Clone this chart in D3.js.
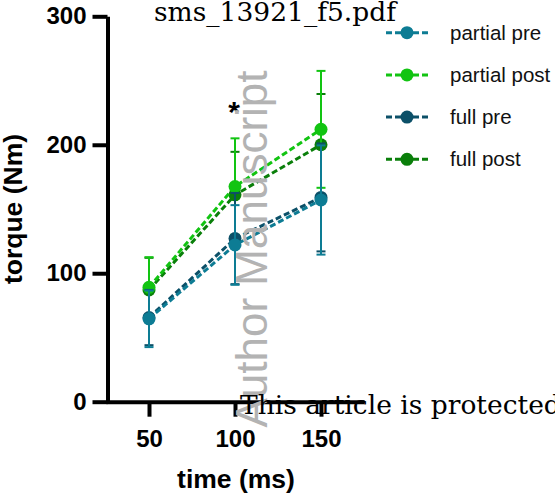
<!DOCTYPE html>
<html>
<head>
<meta charset="utf-8">
<script src="https://cdn.jsdelivr.net/npm/d3@7"></script>
<style>
  html, body { margin: 0; padding: 0; background: #fff; }
  svg { display: block; }
</style>
</head>
<body>
<svg id="chart" width="555" height="498"></svg>
<script>
// Torque over time, partial vs full groups, pre and post (mean ± SD)
const times = [50, 100, 150];
const seriesNames = ["partial pre", "partial post", "full pre", "full post"];
const partialPre = [64.5, 122, 157];
const partialPreSD = [22, 31, 42.5];
const partialPost = [89, 167.5, 212];
const partialPostSD = [23.5, 37.5, 45.5];
const fullPre = [65.5, 127, 159];
const fullPreSD = [21.5, 35.5, 42];
const fullPost = [87, 161, 200];
const fullPostSD = [25, 33.5, 39.5];
const yTicks = [0, 100, 200, 300];
const xTicks = [50, 100, 150];
const colors = ["#0d7c94", "#12c412", "#0c5068", "#0a7f0a"];

const series = [
  { name: seriesNames[0], mean: partialPre, sd: partialPreSD, color: colors[0] },
  { name: seriesNames[1], mean: partialPost, sd: partialPostSD, color: colors[1] },
  { name: seriesNames[2], mean: fullPre, sd: fullPreSD, color: colors[2] },
  { name: seriesNames[3], mean: fullPost, sd: fullPostSD, color: colors[3] }
];

const svg = d3.select("#chart");
const sans = "'Liberation Sans', Arial, Helvetica, sans-serif";
const serif = "'DejaVu Serif', serif";

const x = d3.scaleLinear().domain([25, 175]).range([106, 364]);
const y = d3.scaleLinear().domain([0, 300]).range([401.7, 16.3]);

// header line of the page
svg.append("text")
  .attr("x", 154).attr("y", 21)
  .attr("font-family", serif).attr("font-size", 26.5)
  .attr("fill", "#000")
  .text("sms_13921_f5.pdf");

// axes
const yAxis = svg.append("g")
  .attr("transform", "translate(107.5,0)")
  .call(d3.axisLeft(y).tickValues(yTicks).tickSize(15).tickSizeOuter(0).tickPadding(6));
const xAxis = svg.append("g")
  .attr("transform", `translate(0,${y(0)})`)
  .call(d3.axisBottom(x).tickValues(xTicks).tickSize(15).tickSizeOuter(0).tickPadding(13));

[yAxis, xAxis].forEach(g => {
  g.select(".domain").attr("stroke", "#000").attr("stroke-width", 4);
  g.selectAll(".tick line").attr("stroke", "#000").attr("stroke-width", 4);
  g.selectAll(".tick text")
    .attr("font-family", sans).attr("font-weight", "bold")
    .attr("font-size", 24).attr("fill", "#000");
});

// axis titles
svg.append("text")
  .attr("x", 236).attr("y", 488)
  .attr("text-anchor", "middle")
  .attr("font-family", sans).attr("font-weight", "bold").attr("font-size", 26.5)
  .text("time (ms)");
svg.append("text")
  .attr("transform", "translate(22,209) rotate(-90)")
  .attr("text-anchor", "middle")
  .attr("font-family", sans).attr("font-weight", "bold").attr("font-size", 26.5)
  .text("torque (Nm)");

// data: drawn back to front
const drawOrder = [3, 1, 2, 0];
const line = d3.line().x((d, i) => x(times[i])).y(d => y(d));
const capHalf = 4.5;

drawOrder.forEach(k => {
  const s = series[k];
  const g = svg.append("g");
  // error bars
  times.forEach((t, i) => {
    const lo = y(s.mean[i] - s.sd[i]);
    const hi = y(s.mean[i] + s.sd[i]);
    g.append("line").attr("x1", x(t)).attr("x2", x(t)).attr("y1", lo).attr("y2", hi)
      .attr("stroke", s.color).attr("stroke-width", 2);
    [lo, hi].forEach(v => {
      g.append("line").attr("x1", x(t) - capHalf).attr("x2", x(t) + capHalf)
        .attr("y1", v).attr("y2", v)
        .attr("stroke", s.color).attr("stroke-width", 2);
    });
  });
  // dashed connecting line
  g.append("path").datum(s.mean)
    .attr("d", line)
    .attr("fill", "none").attr("stroke", s.color)
    .attr("stroke-width", 3).attr("stroke-dasharray", "6,3");
  // markers
  g.selectAll("circle").data(s.mean).join("circle")
    .attr("cx", (d, i) => x(times[i])).attr("cy", d => y(d))
    .attr("r", 6.5).attr("fill", s.color);
});

// significance marker
svg.append("text")
  .attr("x", x(100) - 1).attr("y", 122)
  .attr("text-anchor", "middle")
  .attr("font-family", sans).attr("font-weight", "bold").attr("font-size", 30)
  .text("*");

// legend
const legend = svg.append("g");
const legendY = d3.scalePoint().domain(seriesNames).range([32.7, 159.3]);
series.forEach(s => {
  const ly = legendY(s.name);
  legend.append("line").attr("x1", 386).attr("x2", 428).attr("y1", ly).attr("y2", ly)
    .attr("stroke", s.color).attr("stroke-width", 3).attr("stroke-dasharray", "6,3");
  legend.append("circle").attr("cx", 407).attr("cy", ly).attr("r", 6.5).attr("fill", s.color);
  legend.append("text").attr("x", 450).attr("y", ly).attr("dy", "0.35em")
    .attr("font-family", sans).attr("font-size", 20.5).attr("fill", "#111")
    .text(s.name);
});

// page overlays
svg.append("text")
  .attr("transform", "translate(267,249) rotate(-90)")
  .attr("text-anchor", "middle")
  .attr("font-family", sans).attr("font-size", 44)
  .attr("fill", "#b3b3b3")
  .text("Author Manuscript");
svg.append("text")
  .attr("x", 240).attr("y", 414)
  .attr("font-family", serif).attr("font-size", 26.5)
  .attr("fill", "#000")
  .text("This article is protected by copyright. All rights reserved");
</script>
</body>
</html>
